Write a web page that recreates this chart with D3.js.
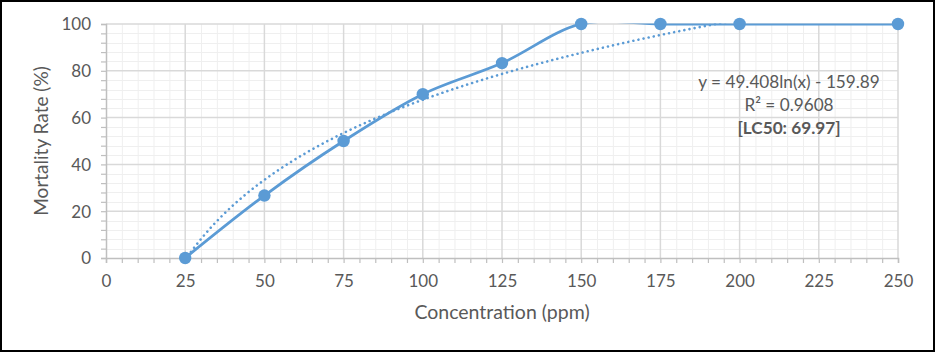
<!DOCTYPE html>
<html><head><meta charset="utf-8">
<script src="https://cdn.jsdelivr.net/npm/d3@7"></script>
<style>
html,body{margin:0;padding:0;background:#fff;}
svg{display:block;font-family:Lato,"Open Sans",sans-serif;}
</style></head>
<body><svg id="c" width="938" height="353"></svg>
<script>
const concentration = [25, 50, 75, 100, 125, 150, 175, 200, 250];
const mortality = [0, 26.7, 50, 70, 83.3, 100, 100, 100, 100];
const xTicks = [0, 25, 50, 75, 100, 125, 150, 175, 200, 225, 250];
const yTicks = [0, 20, 40, 60, 80, 100];
const trendA = 49.408, trendB = -159.89;
const annotation = ["y = 49.408ln(x) - 159.89", "R² = 0.9608", "[LC50: 69.97]"];
const xTitle = "Concentration (ppm)", yTitle = "Mortality Rate (%)";

const svg = d3.select("#c");
const L = 106, R = 898, T = 24, B = 258;
const x = d3.scaleLinear().domain([0, 250]).range([L, R]);
const y = d3.scaleLinear().domain([0, 100]).range([B, T]);
const txt = "#595959", blue = "#5B9BD5";

svg.append("rect").attr("x",1).attr("y",1).attr("width",933).attr("height",350)
  .attr("fill","#fff").attr("stroke","#000").attr("stroke-width",2);

const defs = svg.append("defs");
defs.append("clipPath").attr("id","clip").append("rect")
  .attr("x",L).attr("y",T-0.5).attr("width",R-L).attr("height",B-T+0.5);

// minor grid
const xMinor = d3.range(0, 251, 5).filter(v => v % 25 !== 0);
const yMinor = d3.range(0, 101, 4).filter(v => v % 20 !== 0);
const g = svg.append("g");
g.selectAll(".xm").data(xMinor).join("line")
  .attr("x1", d=>x(d)+0.5).attr("x2", d=>x(d)+0.5).attr("y1",T).attr("y2",B)
  .attr("stroke","#efefef").attr("stroke-width",1);
g.selectAll(".ym").data(yMinor).join("line")
  .attr("y1", d=>Math.round(y(d))+0.5).attr("y2", d=>Math.round(y(d))+0.5).attr("x1",L).attr("x2",R)
  .attr("stroke","#efefef").attr("stroke-width",1);
// major grid
g.selectAll(".xM").data(xTicks.filter(d=>d>0)).join("line")
  .attr("x1", d=>x(d)).attr("x2", d=>x(d)).attr("y1",T).attr("y2",B)
  .attr("stroke","#d9d9d9").attr("stroke-width",1.5);
g.selectAll(".yM").data(yTicks.filter(d=>d>0)).join("line")
  .attr("y1", d=>y(d)).attr("y2", d=>y(d)).attr("x1",L).attr("x2",R)
  .attr("stroke","#d9d9d9").attr("stroke-width",1.5);

// axes
const xAxis = d3.axisBottom(x).tickValues(d3.range(0,251,5)).tickSize(5).tickFormat(d => xTicks.includes(d) ? d : "");
const yAxis = d3.axisLeft(y).tickValues(d3.range(0,101,4)).tickSize(5).tickFormat(d => yTicks.includes(d) ? d : "");
const gx = svg.append("g").attr("transform",`translate(0,${B})`).call(xAxis);
const gy = svg.append("g").attr("transform",`translate(${L},0)`).call(yAxis);
[gx, gy].forEach(a => {
  a.select(".domain").attr("stroke","#bfbfbf").attr("stroke-width",1.5);
  a.selectAll(".tick line").attr("stroke","#bfbfbf").attr("stroke-width",1.2);
  a.selectAll(".tick text").attr("fill",txt).attr("font-size",17).attr("font-family","Lato");
});
gx.selectAll(".tick text").attr("y",17);
gy.selectAll(".tick text").attr("x",-15).attr("dy","0.35em");

// trendline
const trendX = d3.range(24, 251, 1);
const trend = trendX.map(v => [v, trendA*Math.log(v) + trendB]);
const plot = svg.append("g").attr("clip-path","url(#clip)");
plot.append("path").datum(trend)
  .attr("d", d3.line().x(d=>x(d[0])).y(d=>y(d[1])))
  .attr("fill","none").attr("stroke",blue).attr("stroke-width",2.6)
  .attr("stroke-linecap","round").attr("stroke-dasharray","0.01 5.2");

// series
const pts = concentration.map((c,i)=>[c, mortality[i]]);
plot.append("path").datum(pts)
  .attr("d", d3.line().x(d=>x(d[0])).y(d=>y(d[1])).curve(d3.curveCatmullRom.alpha(0.5)))
  .attr("fill","none").attr("stroke",blue).attr("stroke-width",2.8).attr("stroke-linejoin","round");
svg.append("g").selectAll("circle").data(pts).join("circle")
  .attr("cx", d=>x(d[0])).attr("cy", d=>y(d[1])).attr("r",6.2).attr("fill",blue);

// annotation
const ann = svg.append("text").attr("fill",txt).attr("font-size",17.2).attr("text-anchor","middle");
annotation.forEach((t,i) => {
  ann.append("tspan").attr("x",789).attr("y",[88,111,134][i]).text(t)
    .attr("font-weight", i===2 ? "bold" : "normal");
});

// axis titles
svg.append("text").attr("x",502).attr("y",319).attr("text-anchor","middle")
  .attr("fill",txt).attr("font-size",19.5).text(xTitle);
svg.append("text").attr("transform","translate(48,141) rotate(-90)").attr("text-anchor","middle")
  .attr("fill",txt).attr("font-size",19).text(yTitle);
</script></body></html>
